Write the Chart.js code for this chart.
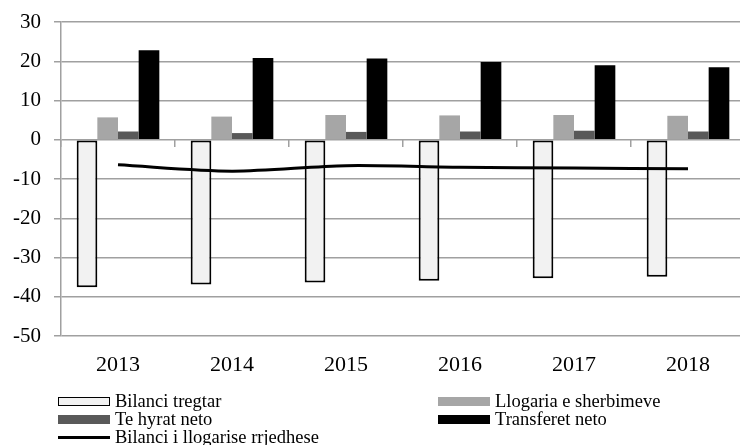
<!DOCTYPE html>
<html>
<head>
<meta charset="utf-8">
<script src="https://cdn.jsdelivr.net/npm/chart.js@4/dist/chart.umd.min.js"></script>
<style>
  html, body { margin: 0; padding: 0; background: #fff; overflow: hidden; }
  #wrap { position: relative; width: 740px; height: 445px; overflow: hidden; }
  #chart { position: absolute; left: 0; top: 0; }
  .lg { position: absolute; height: 18px; display: flex; align-items: center;
        font-family: "Liberation Serif", "Times New Roman", serif; font-size: 18.5px; color: #000; white-space: nowrap; }
  .sw { width: 52px; margin-right: 5px; box-sizing: border-box; flex: none; }
</style>
</head>
<body>
<div id="wrap">
  <canvas id="chart" width="750" height="445"></canvas>
  <div id="legend"></div>
</div>
<script>
// Years on the category axis
const years = ['2013', '2014', '2015', '2016', '2017', '2018'];
// Balance of payments components (% of GDP)
const bilanciTregtar = [-37.6, -36.9, -36.4, -35.9, -35.3, -34.9];
const llogariaSherbimeve = [5.7, 5.9, 6.3, 6.2, 6.3, 6.1];
const teHyratNeto = [2.1, 1.7, 2.0, 2.1, 2.3, 2.1];
const transferetNeto = [22.8, 20.8, 20.7, 19.8, 19.0, 18.5];
const bilanciLlogariseRrjedhese = [-6.4, -8.0, -6.6, -7.0, -7.2, -7.4];
// Value axis ticks
const yTicks = [30, 20, 10, 0, -10, -20, -30, -40, -50];

const serif = '"Liberation Serif", "Times New Roman", serif';
const gridGrey = '#a0a0a0';

const chart = new Chart(document.getElementById('chart'), {
  type: 'bar',
  data: {
    labels: years,
    datasets: [
      { label: 'Bilanci tregtar', data: bilanciTregtar, backgroundColor: '#f2f2f2',
        borderColor: '#000', borderWidth: 2, borderSkipped: false, order: 1 },
      { label: 'Llogaria e sherbimeve', data: llogariaSherbimeve, backgroundColor: '#a6a6a6', order: 1 },
      { label: 'Te hyrat neto', data: teHyratNeto, backgroundColor: '#595959', order: 1 },
      { label: 'Transferet neto', data: transferetNeto, backgroundColor: '#000000', order: 1 },
      { type: 'line', label: 'Bilanci i llogarise rrjedhese', data: bilanciLlogariseRrjedhese,
        borderColor: '#000', borderWidth: 3, pointRadius: 0, tension: 0.3, fill: false, order: 0 }
    ]
  },
  options: {
    responsive: false,
    animation: false,
    devicePixelRatio: 1,
    layout: { padding: { top: 22, right: 5, left: 0, bottom: 0 } },
    datasets: { bar: { barPercentage: 1, categoryPercentage: 0.725 } },
    plugins: { legend: { display: false }, tooltip: { enabled: false } },
    scales: {
      x: {
        position: 'bottom',
        offset: true,
        grid: { display: false },
        border: { display: false },
        ticks: { color: '#000', font: { family: serif, size: 22 }, padding: 8 },
        afterFit: s => { s.height = 109; s.paddingLeft = 0; s.paddingRight = 0; }
      },
      xZero: {
        type: 'category',
        axis: 'x',
        position: { y: 0 },
        offset: true,
        grid: { drawOnChartArea: false, drawTicks: true, tickLength: 7, color: gridGrey, lineWidth: 1.5, offset: true },
        border: { display: false },
        ticks: { display: false },
        afterFit: s => { s.paddingTop = 0; s.paddingBottom = 0; s.paddingLeft = 0; s.paddingRight = 0; }
      },
      y: {
        min: -50, max: 30,
        afterBuildTicks: s => { s.ticks = yTicks.map(v => ({ value: v })); },
        grid: { color: gridGrey, lineWidth: 1.5, tickLength: 7, drawTicks: true },
        border: { color: gridGrey, width: 1.5 },
        ticks: { color: '#000', font: { family: serif, size: 21 }, padding: 13 },
        afterFit: s => { s.width = 61; s.paddingTop = 0; s.paddingBottom = 0; }
      }
    }
  }
});

// Two-column legend built from the chart's datasets
const legendPos = [
  { left: 58, top: 392 }, { left: 438, top: 392 },
  { left: 58, top: 410 }, { left: 438, top: 410 },
  { left: 58, top: 428 }
];
const legendEl = document.getElementById('legend');
chart.data.datasets.forEach((ds, i) => {
  const item = document.createElement('div');
  item.className = 'lg';
  item.style.left = legendPos[i].left + 'px';
  item.style.top = legendPos[i].top + 'px';
  const sw = document.createElement('span');
  sw.className = 'sw';
  if (ds.type === 'line') {
    sw.style.height = '3px';
    sw.style.background = ds.borderColor;
  } else {
    sw.style.height = '9px';
    sw.style.background = ds.backgroundColor;
    if (ds.borderWidth) sw.style.border = '1.5px solid ' + ds.borderColor;
  }
  const tx = document.createElement('span');
  tx.textContent = ds.label;
  item.appendChild(sw);
  item.appendChild(tx);
  legendEl.appendChild(item);
});
</script>
</body>
</html>
